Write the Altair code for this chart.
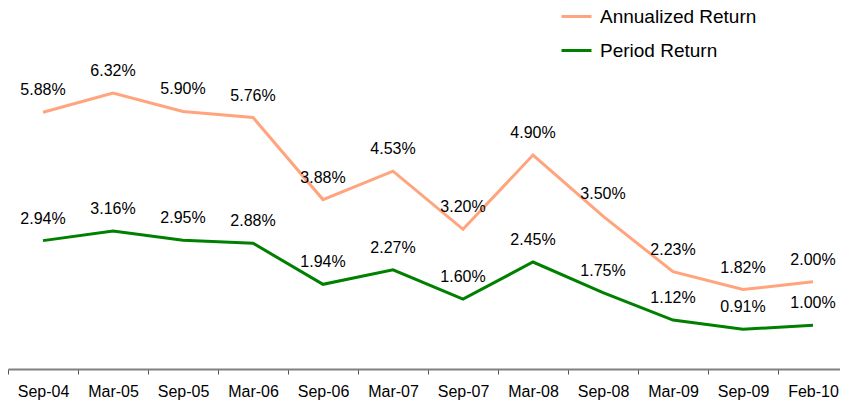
import altair as alt
import pandas as pd

periods = ["Sep-04", "Mar-05", "Sep-05", "Mar-06", "Sep-06", "Mar-07",
           "Sep-07", "Mar-08", "Sep-08", "Mar-09", "Sep-09", "Feb-10"]
annualized = [5.88, 6.32, 5.90, 5.76, 3.88, 4.53, 3.20, 4.90, 3.50, 2.23, 1.82, 2.00]
period_ret = [2.94, 3.16, 2.95, 2.88, 1.94, 2.27, 1.60, 2.45, 1.75, 1.12, 0.91, 1.00]
series_names = ["Annualized Return", "Period Return"]
series_colors = ["#FFA47C", "#008000"]

rows = []
for name, vals in zip(series_names, [annualized, period_ret]):
    for p, v in zip(periods, vals):
        rows.append({"Period": p, "Series": name, "Value": v, "Label": f"{v:.2f}%"})
df = pd.DataFrame(rows)

x = alt.X("Period:N", sort=periods, title=None,
          scale=alt.Scale(paddingInner=0, paddingOuter=0, range=[0, 840]),
          axis=alt.Axis(labelAngle=0, tickBand="extent", domainColor="#808080",
                        domainWidth=2, tickColor="#555555", tickSize=5, tickWidth=1,
                        labelFontSize=16, labelFont="Liberation Sans", labelColor="#000000",
                        labelPadding=9, grid=False))
y = alt.Y("Value:Q", scale=alt.Scale(domain=[0, 8.085], nice=False, zero=True),
          axis=None)
color = alt.Color("Series:N", sort=series_names,
                  scale=alt.Scale(domain=series_names, range=series_colors),
                  legend=alt.Legend(title=None, orient="none", legendX=552, legendY=-16,
                                    symbolType="stroke", symbolSize=900, symbolStrokeWidth=3,
                                    labelFontSize=19, labelFont="Liberation Sans",
                                    labelColor="#000000", rowPadding=7, labelOffset=7))

lines = alt.Chart(df).mark_line(strokeWidth=3).encode(x=x, y=y, color=color)
labels = alt.Chart(df).mark_text(dy=-22, fontSize=16, font="Liberation Sans",
                                 color="#000000").encode(
    x=alt.X("Period:N", sort=periods), y="Value:Q", text="Label:N")

chart = (lines + labels).properties(
    width=832, height=353,
    padding={"left": 0, "top": 8, "right": 0, "bottom": 31},
    autosize=alt.AutoSizeParams(type="none")
).configure(background="#ffffff", view=alt.ViewConfig(stroke=None))

chart.save("out.html", embed_options={"renderer": "svg", "actions": False})
